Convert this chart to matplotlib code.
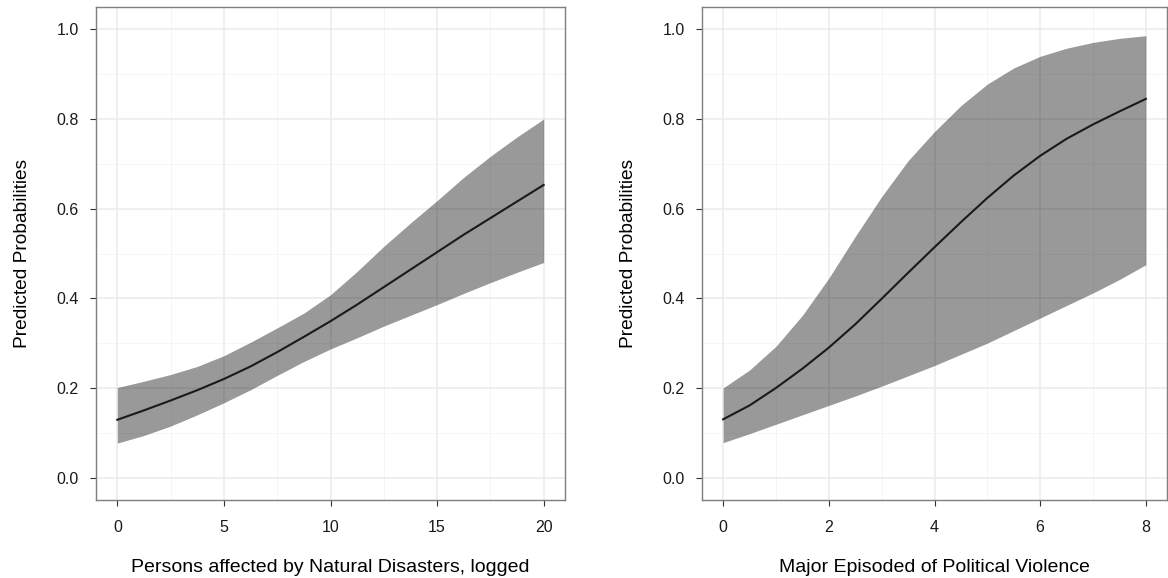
import numpy as np
import matplotlib
matplotlib.use("Agg")
import matplotlib.pyplot as plt

plt.rcParams['font.family'] = ['Liberation Sans', 'DejaVu Sans']

# left panel: persons affected by natural disasters (logged)
dis_x = [0, 1.25, 2.5, 3.75, 5, 6.25, 7.5, 8.75, 10,
         11.25, 12.5, 13.75, 15, 16.25, 17.5, 18.75, 20]
dis_mean = [0.129, 0.150, 0.172, 0.195, 0.220, 0.248, 0.280, 0.314, 0.349,
            0.386, 0.425, 0.464, 0.503, 0.542, 0.579, 0.616, 0.653]
dis_upper = [0.201, 0.215, 0.230, 0.248, 0.272, 0.302, 0.334, 0.367, 0.408,
             0.460, 0.516, 0.568, 0.618, 0.670, 0.717, 0.760, 0.800]
dis_lower = [0.077, 0.094, 0.115, 0.140, 0.167, 0.196, 0.228, 0.259, 0.287,
             0.312, 0.338, 0.362, 0.386, 0.411, 0.435, 0.458, 0.480]

# right panel: major episodes of political violence
pv_x = [0, 0.5, 1, 1.5, 2, 2.5, 3, 3.5, 4, 4.5, 5, 5.5, 6, 6.5, 7, 7.5, 8]
pv_mean = [0.130, 0.161, 0.200, 0.243, 0.290, 0.342, 0.399, 0.457, 0.514,
           0.570, 0.624, 0.674, 0.718, 0.756, 0.788, 0.817, 0.845]
pv_upper = [0.200, 0.240, 0.293, 0.362, 0.445, 0.538, 0.627, 0.707, 0.772,
            0.830, 0.878, 0.914, 0.940, 0.958, 0.971, 0.980, 0.986]
pv_lower = [0.078, 0.098, 0.119, 0.140, 0.161, 0.182, 0.204, 0.227, 0.250,
            0.275, 0.300, 0.328, 0.356, 0.384, 0.412, 0.442, 0.475]

y_ticks = [0.0, 0.2, 0.4, 0.6, 0.8, 1.0]

fig = plt.figure(figsize=(11.68, 5.78), dpi=100)
ax1 = fig.add_axes([96 / 1168, 1 - 500 / 578, 469 / 1168, 493 / 578])
ax2 = fig.add_axes([702 / 1168, 1 - 500 / 578, 465 / 1168, 493 / 578])


def style(ax, x, mean, lo, hi, xmax, major, minor, xlabel):
    ax.set_axisbelow(True)
    ax.fill_between(x, lo, hi, color='black', alpha=0.4, linewidth=0)
    ax.plot(x, mean, color='#1a1a1a', lw=1.5)
    ax.set_xlim(-0.05 * xmax, 1.05 * xmax)
    ax.set_ylim(-0.05, 1.05)
    ax.set_xticks(major)
    ax.set_xticks(minor, minor=True)
    ax.set_yticks(y_ticks)
    ax.set_yticks([0.1, 0.3, 0.5, 0.7, 0.9], minor=True)
    ax.set_yticklabels(['%.1f' % v for v in y_ticks])
    ax.grid(True, which='major', color='#ebebeb', lw=1.1)
    ax.grid(True, which='minor', color='#f4f4f4', lw=0.6)
    ax.tick_params(which='major', length=4.5, width=0.8, color='#333333',
                   labelsize=11.5, labelcolor='#1a1a1a', pad=8)
    ax.tick_params(axis='x', which='major', pad=10)
    ax.tick_params(which='minor', length=0)
    for s in ax.spines.values():
        s.set_color('#7f7f7f')
        s.set_linewidth(1.0)
    ax.set_xlabel(xlabel, fontsize=14, labelpad=17)
    ax.set_ylabel('Predicted Probabilities', fontsize=13.8, labelpad=18)


style(ax1, dis_x, dis_mean, dis_lower, dis_upper, 20,
      [0, 5, 10, 15, 20], [2.5, 7.5, 12.5, 17.5],
      'Persons affected by Natural Disasters, logged')
style(ax2, pv_x, pv_mean, pv_lower, pv_upper, 8,
      [0, 2, 4, 6, 8], [1, 3, 5, 7],
      'Major Episoded of Political Violence')

fig.savefig('out.png', dpi=100)
